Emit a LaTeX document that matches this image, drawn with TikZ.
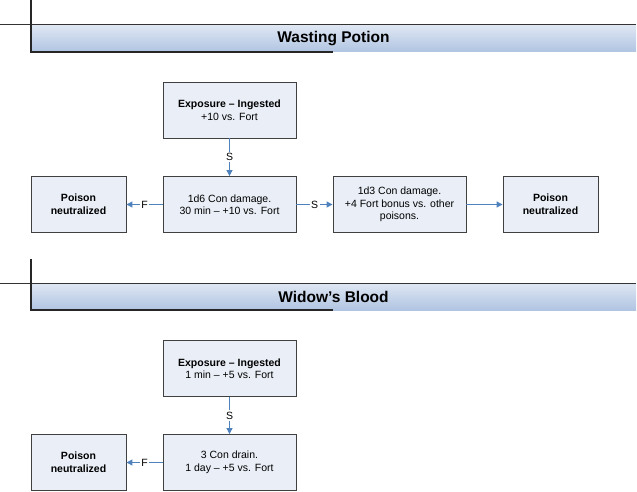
\documentclass[tikz,border=0pt]{standalone}
\usepackage{fontspec}
\setmainfont{Liberation Sans}
\usepackage{xcolor}
\usetikzlibrary{arrows.meta,positioning}
\definecolor{boxfill}{RGB}{234,239,247}
\definecolor{boxline}{RGB}{64,64,64}
\definecolor{flowblue}{RGB}{79,129,189}
\definecolor{bandtop}{RGB}{223,231,243}
\definecolor{bandbottom}{RGB}{176,196,226}

\tikzset{
    stagebox/.style={draw=boxline, line width=0.9pt, fill=boxfill, align=center,
        inner sep=2pt, font=\fontsize{10.5}{12.5}\selectfont},
    widebox/.style={stagebox, minimum width=133pt, minimum height=56pt},
    endbox/.style={stagebox, minimum width=95pt, minimum height=56pt,
        font=\fontsize{10.5}{13}\selectfont\bfseries},
    flow/.style={draw=flowblue, line width=1.1pt, -{Triangle[length=6pt,width=6pt]}},
    flowlabel/.style={fill=white, inner sep=1.5pt, font=\fontsize{10.5}{12}\selectfont},
    bandtitle/.style={font=\fontsize{15.5}{18}\selectfont\bfseries}
}

\begin{document}
\begin{tikzpicture}[x=1pt,y=-1pt]
    \useasboundingbox (0,0) rectangle (637,492);

    % Header: Wasting Potion
    \shade[top color=bandtop, bottom color=bandbottom] (31,25) rectangle (636,52);
    \draw[line width=1pt, black!80] (0,25) -- (636,25);
    \draw[line width=1.3pt, black!85] (31,0) -- (31,52) -- (333,52);
    \node[bandtitle] (title1) at (333.5,38.5) {Wasting Potion};

    % Stages of Wasting Potion
    \node[widebox] (exp1) at (229.5,110) {\textbf{Exposure – Ingested}\\+10 vs. Fort};
    \node[widebox] (dmg1) at (229.5,204.5) {1d6 Con damage.\\30 min – +10 vs. Fort};
    \node[widebox] (dmg1b) at (399.5,204.5) {1d3 Con damage.\\+4 Fort bonus vs. other\\poisons.};
    \node[endbox] (neut1r) at (550.5,204.5) {Poison\\neutralized};
    \node[endbox] (neut1l) at (78.5,204.5) {Poison\\neutralized};

    \draw[flow] (exp1) -- node[flowlabel] {S} (dmg1);
    \draw[flow] (dmg1) -- node[flowlabel] {F} (neut1l);
    \draw[flow] (dmg1) -- node[flowlabel] {S} (dmg1b);
    \draw[flow] (dmg1b) -- (neut1r);

    % Header: Widow's Blood
    \shade[top color=bandtop, bottom color=bandbottom] (31,283) rectangle (636,310);
    \draw[line width=1pt, black!80] (0,283) -- (636,283);
    \draw[line width=1.3pt, black!85] (31,259) -- (31,310) -- (333,310);
    \node[bandtitle] (title2) at (333.5,296.5) {Widow’s Blood};

    % Stages of Widow's Blood
    \node[widebox] (exp2) at (229.5,368.5) {\textbf{Exposure – Ingested}\\1 min – +5 vs. Fort};
    \node[widebox] (drain2) at (229.5,462.5) {3 Con drain.\\1 day – +5 vs. Fort};
    \node[endbox] (neut2) at (78.5,462.5) {Poison\\neutralized};

    \draw[flow] (exp2) -- node[flowlabel] {S} (drain2);
    \draw[flow] (drain2) -- node[flowlabel] {F} (neut2);
\end{tikzpicture}
\end{document}
